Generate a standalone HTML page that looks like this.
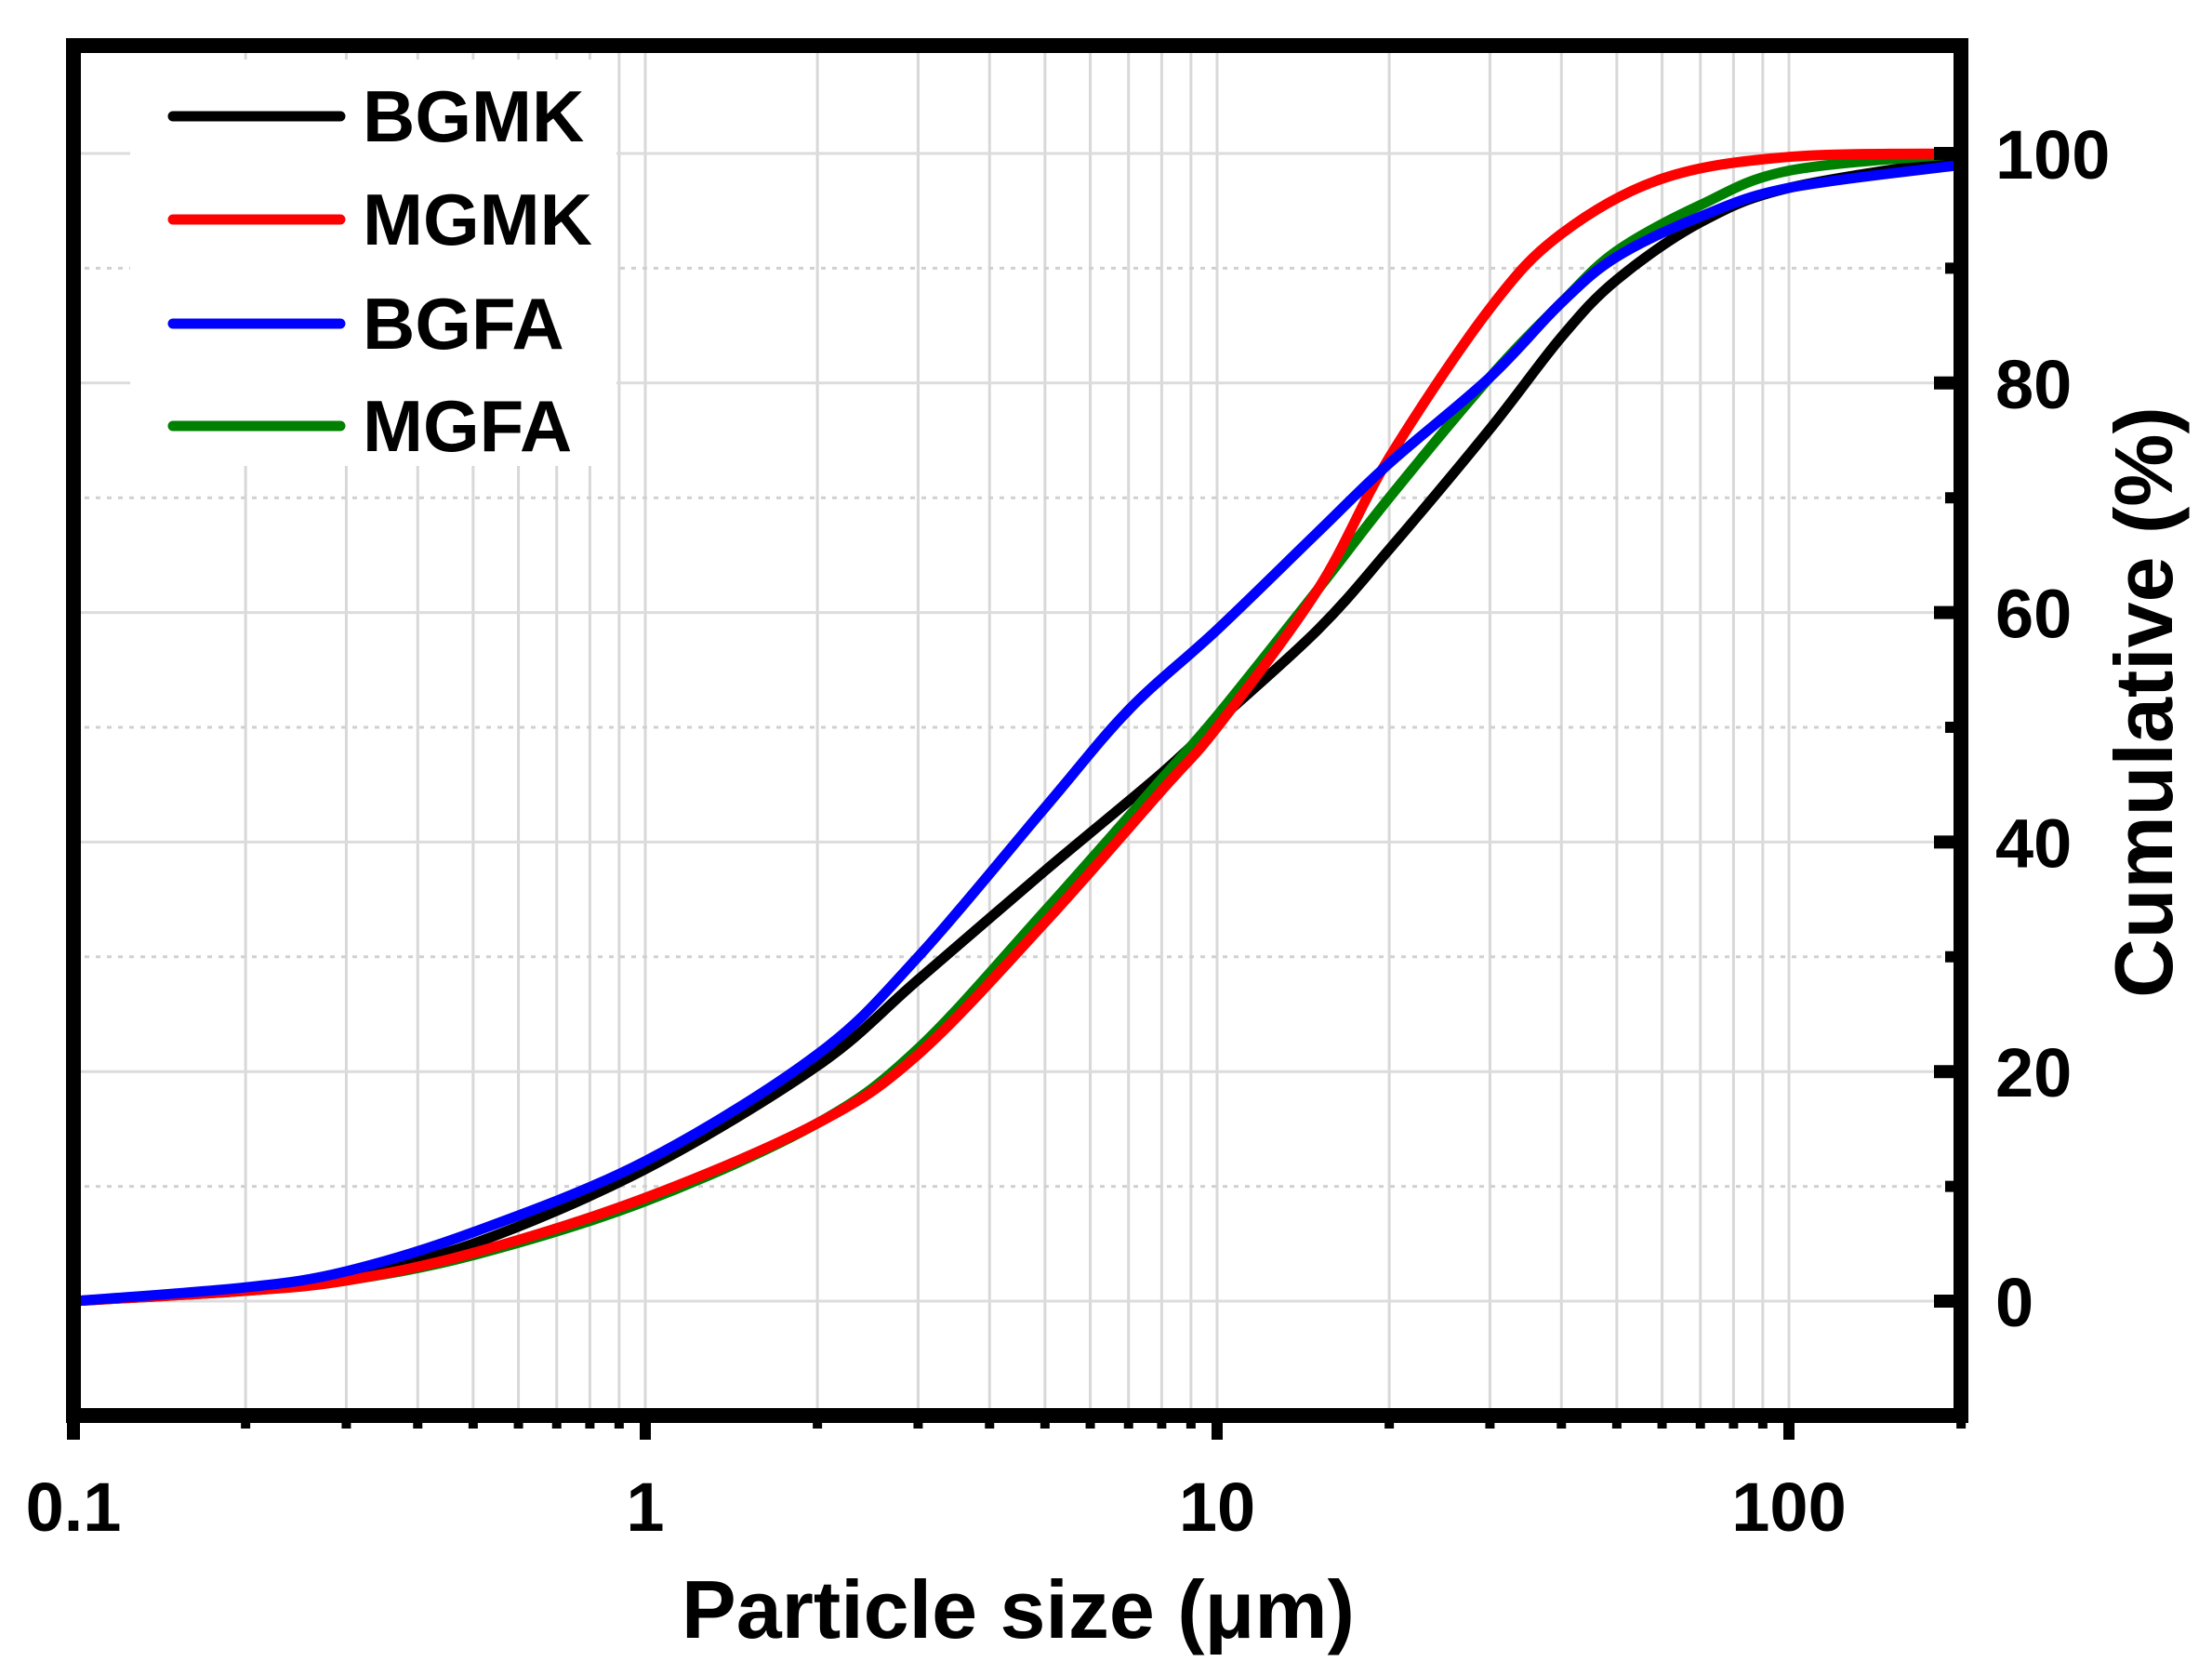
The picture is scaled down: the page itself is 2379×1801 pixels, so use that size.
<!DOCTYPE html>
<html><head><meta charset="utf-8"><style>
html,body{margin:0;padding:0;background:#fff;}
svg{display:block;}
text{font-family:"Liberation Sans",Arial,sans-serif;font-weight:bold;fill:#000;}
</style></head><body>
<svg id="s" width="2379" height="1801" viewBox="0 0 2379 1801" xmlns="http://www.w3.org/2000/svg">
<g id="grid"></g>
<rect x="140" y="64" width="523" height="437" fill="#fff"/>
<g id="curves" fill="none" stroke-width="11" stroke-linecap="round" stroke-linejoin="round"></g>
<rect x="79" y="49" width="2030" height="1473" fill="none" stroke="#000" stroke-width="16"/>
<g id="ticks" stroke="#000"></g>
<g font-size="74" id="labels"></g>
<g stroke-width="11" stroke-linecap="round">
<line x1="186" y1="125" x2="366" y2="125" stroke="#000"/>
<line x1="186" y1="236" x2="366" y2="236" stroke="#f00"/>
<line x1="186" y1="348" x2="366" y2="348" stroke="#00f"/>
<line x1="186" y1="458" x2="366" y2="458" stroke="#008000"/>
</g>
<g font-size="78">
<text x="390" y="152">BGMK</text>
<text x="390" y="263">MGMK</text>
<text x="390" y="375">BGFA</text>
<text x="390" y="485">MGFA</text>
</g>
<text x="1095" y="1761" font-size="88" text-anchor="middle">Particle size (μm)</text>
<text transform="translate(2336,755) rotate(-90)" font-size="88" text-anchor="middle">Cumulative (%)</text>
</svg>
<script>
var NS="http://www.w3.org/2000/svg";
function X(v){return 79+615*(Math.log10(v)+1);}
function Y(v){return 1399-12.34*v;}
function el(p,t,a){var e=document.createElementNS(NS,t);for(var k in a)e.setAttribute(k,a[k]);p.appendChild(e);return e;}
var g=document.getElementById('grid'),tk=document.getElementById('ticks'),lb=document.getElementById('labels');
[0.1,1,10,100].forEach(function(d){for(var m=1;m<=9;m++){var v=d*m;if(v>200||v<=0.1)continue;
 var x=X(v);el(g,'line',{x1:x,y1:49,x2:x,y2:1522,stroke:'#d8d8d8','stroke-width':3});
 var maj=(m==1);el(tk,'line',{x1:x,y1:1522,x2:x,y2:maj?1548:1536,'stroke-width':maj?12:10});
}});
el(tk,'line',{x1:X(0.1),y1:1522,x2:X(0.1),y2:1548,'stroke-width':14});
for(var v=0;v<=100;v+=10){var y=Y(v);
 if(v%20==0){el(g,'line',{x1:79,y1:y,x2:2109,y2:y,stroke:'#dcdcdc','stroke-width':3});
  el(tk,'line',{x1:2109,y1:y,x2:2080,y2:y,'stroke-width':14});
  var t=el(lb,'text',{x:2146,y:y+27});t.textContent=v;}
 else{el(g,'line',{x1:79,y1:y,x2:2109,y2:y,stroke:'#d0d0d0','stroke-width':3,'stroke-dasharray':'5 7'});
  el(tk,'line',{x1:2109,y1:y,x2:2092,y2:y,'stroke-width':12});}
}
[[0.1,'0.1'],[1,'1'],[10,'10'],[100,'100']].forEach(function(a){var t=el(lb,'text',{x:X(a[0]),y:1646,'text-anchor':'middle'});t.textContent=a[1];});
var data={
'#000':[[0.1,0],[0.2,1],[0.3,2.2],[0.5,5],[1,11.5],[2,20.5],[3,28],[5,37.5],[8,46],[10,50.5],[15,58.5],[20,65.5],[30,76],[40,84],[50,89],[70,94],[100,97],[200,99.5]],
'#008000':[[0.1,0],[0.2,0.9],[0.3,1.8],[0.5,4],[1,8.7],[2,15.5],[3,22],[5,34],[8,45.5],[10,51],[15,62],[20,70],[30,80.5],[40,87],[50,91.5],[70,95.5],[100,98.5],[200,100]],
'#f00':[[0.1,0],[0.2,0.9],[0.3,1.8],[0.5,4.2],[1,9],[2,15.5],[3,21.5],[5,33],[8,44.5],[10,50],[15,62],[20,73.5],[30,86.5],[40,93],[60,97.8],[100,99.7],[200,100]],
'#00f':[[0.1,0],[0.2,1.2],[0.3,2.6],[0.5,6],[1,12.2],[2,21.5],[3,30],[5,43],[7,51.5],[10,58.5],[15,67],[20,73],[30,80.5],[40,87],[50,91],[70,94.5],[100,97],[200,99]]
};
var cg=document.getElementById('curves');
Object.keys(data).forEach(function(c){var p=data[c].map(function(q){return [X(q[0]),Y(q[1])];});
 var d='M'+p[0][0]+','+p[0][1];
 for(var i=0;i<p.length-1;i++){var p0=p[Math.max(i-1,0)],p1=p[i],p2=p[i+1],p3=p[Math.min(i+2,p.length-1)];
  var c1=[p1[0]+(p2[0]-p0[0])/6,p1[1]+(p2[1]-p0[1])/6],c2=[p2[0]-(p3[0]-p1[0])/6,p2[1]-(p3[1]-p1[1])/6];
  d+=' C'+c1+' '+c2+' '+p2;}
 el(cg,'path',{d:d,stroke:c});
});
</script>
</body></html>
